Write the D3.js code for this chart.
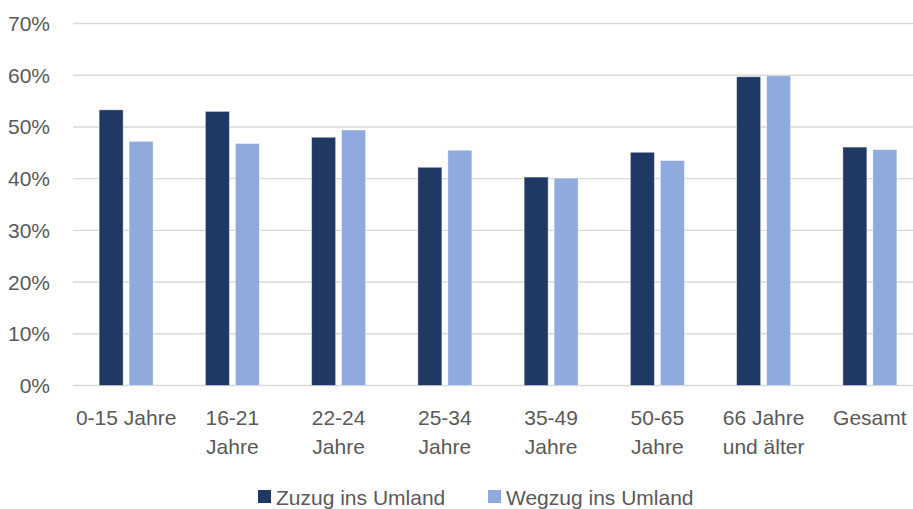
<!DOCTYPE html>
<html><head><meta charset="utf-8">
<script src="https://cdn.jsdelivr.net/npm/d3@7"></script>
<style>html,body{margin:0;padding:0;background:#fff;overflow:hidden}</style>
</head><body>
<svg id="c" width="913" height="509"></svg>
<script>
const categories = [["0-15 Jahre"],["16-21","Jahre"],["22-24","Jahre"],["25-34","Jahre"],["35-49","Jahre"],["50-65","Jahre"],["66 Jahre","und älter"],["Gesamt"]];
const seriesNames = ["Zuzug ins Umland","Wegzug ins Umland"];
const zuzug = [0.533,0.530,0.480,0.422,0.403,0.451,0.597,0.461];
const wegzug = [0.472,0.468,0.494,0.455,0.401,0.435,0.599,0.456];
const colors = ["#203864","#8faadc"];
const yTicks = [0,0.1,0.2,0.3,0.4,0.5,0.6,0.7];

const svg = d3.select("#c");
const font = "'Liberation Sans', Arial, sans-serif";
const textColor = "#595959";

const x0 = d3.scaleBand().domain(d3.range(categories.length)).range([73,923]).paddingInner(0.492).paddingOuter(0.246);
const x1 = d3.scaleBand().domain([0,1]).range([0,x0.bandwidth()]).paddingInner(0.2);
const y = d3.scaleLinear().domain([0,0.7]).range([385.5,23.5]);

// gridlines
svg.append("g").selectAll("line").data(yTicks).join("line")
  .attr("x1",73).attr("x2",923)
  .attr("y1",d=>y(d)).attr("y2",d=>y(d))
  .attr("stroke","#d9d9d9").attr("stroke-width",1.4);

// y labels
svg.append("g").selectAll("text").data(yTicks).join("text")
  .attr("x",50).attr("y",d=>y(d)).attr("dy","0.36em")
  .attr("text-anchor","end").attr("font-family",font).attr("font-size",21)
  .attr("fill",textColor).text(d=>d3.format(".0%")(d));

// bars
const data = [zuzug, wegzug];
data.forEach((vals,si)=>{
  svg.append("g").selectAll("rect").data(vals).join("rect")
    .attr("x",(d,i)=>x0(i)+x1(si)).attr("width",x1.bandwidth())
    .attr("y",d=>y(d)).attr("height",d=>y(0)-y(d))
    .attr("fill",colors[si]).attr("stroke","#ffffff").attr("stroke-opacity",0.5).attr("stroke-width",0.8);
});

// x labels
const xl = svg.append("g").selectAll("text").data(categories).join("text")
  .attr("x",(d,i)=>x0(i)+x0.bandwidth()/2).attr("y",417)
  .attr("text-anchor","middle").attr("font-family",font).attr("font-size",21).attr("fill",textColor);
xl.each(function(lines,i){
  const t=d3.select(this);
  lines.forEach((l,j)=>{
    t.append("tspan").attr("x",x0(i)+x0.bandwidth()/2).attr("y",417+j*29).attr("dy","0.36em").text(l);
  });
});

// legend
const legX = [258,488];
seriesNames.forEach((n,i)=>{
  svg.append("rect").attr("x",legX[i]).attr("y",490).attr("width",13).attr("height",13).attr("fill",colors[i]);
  svg.append("text").attr("x",legX[i]+18).attr("y",497).attr("dy","0.36em")
    .attr("font-family",font).attr("font-size",21).attr("fill",textColor).text(n);
});
</script>
</body></html>
